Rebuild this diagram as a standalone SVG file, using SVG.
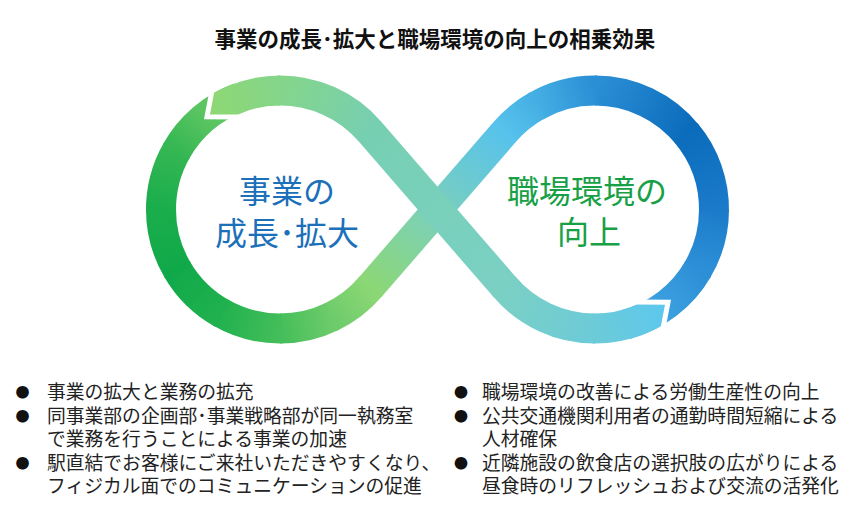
<svg xmlns="http://www.w3.org/2000/svg" width="868" height="508" viewBox="0 0 868 508">
<style>
.rb{fill:none;stroke-width:30;stroke-linecap:butt}
.cut{fill:none;stroke:#fff;stroke-width:5;stroke-linejoin:miter}
.t{font-family:"Noto Sans CJK JP","Noto Sans CJK SC",sans-serif}
.title{font-size:21.5px;font-weight:700;fill:#111;text-anchor:middle}
.big{font-size:32px;text-anchor:middle}
.li{font-size:18.8px;fill:#222}
.bul{font-size:14px;fill:#111}
</style>
<defs>
<linearGradient id="g_r2a" gradientUnits="userSpaceOnUse" x1="645.29" y1="317.35" x2="698.06" y2="269.0"><stop offset="0" stop-color="#40a5e2"/><stop offset="1" stop-color="#2d90d7"/></linearGradient>
<linearGradient id="g_r2b" gradientUnits="userSpaceOnUse" x1="698.06" y1="269.0" x2="714" y2="209.5"><stop offset="0" stop-color="#2d90d7"/><stop offset="1" stop-color="#1b7bca"/></linearGradient>
<linearGradient id="g_r2c" gradientUnits="userSpaceOnUse" x1="714" y1="209.5" x2="686.16" y2="133.0"><stop offset="0" stop-color="#1b7bca"/><stop offset="1" stop-color="#0b6cbc"/></linearGradient>
<linearGradient id="g_r2d" gradientUnits="userSpaceOnUse" x1="686.16" y1="133.0" x2="595" y2="90.5"><stop offset="0" stop-color="#0b6cbc"/><stop offset="1" stop-color="#2b8fd5"/></linearGradient>
<linearGradient id="g_r2e" gradientUnits="userSpaceOnUse" x1="595" y1="90.5" x2="535.5" y2="106.44"><stop offset="0" stop-color="#2b8fd5"/><stop offset="1" stop-color="#46b0e4"/></linearGradient>
<linearGradient id="g_r2f" gradientUnits="userSpaceOnUse" x1="535.5" y1="106.44" x2="505.08" y2="131.54"><stop offset="0" stop-color="#46b0e4"/><stop offset="1" stop-color="#57c2ec"/></linearGradient>
<linearGradient id="g_d2" gradientUnits="userSpaceOnUse" x1="505.08" y1="131.54" x2="369.92" y2="287.46"><stop offset="0" stop-color="#57c2ec"/><stop offset="0.5" stop-color="#7ad0bd"/><stop offset="1" stop-color="#8cd775"/></linearGradient>
<linearGradient id="g_l2a" gradientUnits="userSpaceOnUse" x1="369.92" y1="287.46" x2="330.29" y2="317.35"><stop offset="0" stop-color="#8cd775"/><stop offset="1" stop-color="#6dcb6a"/></linearGradient>
<linearGradient id="g_l2b" gradientUnits="userSpaceOnUse" x1="330.29" y1="317.35" x2="280" y2="328.5"><stop offset="0" stop-color="#6dcb6a"/><stop offset="1" stop-color="#44be5a"/></linearGradient>
<linearGradient id="g_l2c" gradientUnits="userSpaceOnUse" x1="280" y1="328.5" x2="220.5" y2="312.56"><stop offset="0" stop-color="#44be5a"/><stop offset="1" stop-color="#20b14e"/></linearGradient>
<linearGradient id="g_l2d" gradientUnits="userSpaceOnUse" x1="220.5" y1="312.56" x2="176.95" y2="269"><stop offset="0" stop-color="#20b14e"/><stop offset="1" stop-color="#10a94a"/></linearGradient>
<linearGradient id="g_l2e" gradientUnits="userSpaceOnUse" x1="176.95" y1="269" x2="161" y2="209.5"><stop offset="0" stop-color="#10a94a"/><stop offset="1" stop-color="#1aad4c"/></linearGradient>
<linearGradient id="g_l2f" gradientUnits="userSpaceOnUse" x1="161" y1="209.5" x2="176.95" y2="150"><stop offset="0" stop-color="#1aad4c"/><stop offset="1" stop-color="#35b753"/></linearGradient>
<linearGradient id="g_l2g" gradientUnits="userSpaceOnUse" x1="176.95" y1="150" x2="206.4" y2="116"><stop offset="0" stop-color="#35b753"/><stop offset="1" stop-color="#5bc562"/></linearGradient>
<linearGradient id="g_l1a" gradientUnits="userSpaceOnUse" x1="206.4" y1="116" x2="280" y2="90.5"><stop offset="0" stop-color="#8fd871"/><stop offset="1" stop-color="#84d58a"/></linearGradient>
<linearGradient id="g_l1b" gradientUnits="userSpaceOnUse" x1="280" y1="90.5" x2="369.92" y2="131.54"><stop offset="0" stop-color="#84d58a"/><stop offset="1" stop-color="#77cfb2"/></linearGradient>
<linearGradient id="g_d1" gradientUnits="userSpaceOnUse" x1="369.92" y1="131.54" x2="505.08" y2="287.46"><stop offset="0" stop-color="#77cfb2"/><stop offset="0.5" stop-color="#79d0bb"/><stop offset="1" stop-color="#7bd0c4"/></linearGradient>
<linearGradient id="g_r1a" gradientUnits="userSpaceOnUse" x1="505.08" y1="287.46" x2="595" y2="328.5"><stop offset="0" stop-color="#7bd0c4"/><stop offset="1" stop-color="#6ccbd8"/></linearGradient>
<linearGradient id="g_r1b" gradientUnits="userSpaceOnUse" x1="595" y1="328.5" x2="668.6" y2="303"><stop offset="0" stop-color="#6ccbd8"/><stop offset="1" stop-color="#5bc7f0"/></linearGradient>
<clipPath id="clipL"><polygon points="218.7,55 207,116.7 320,118 320,55"/></clipPath>
<clipPath id="clipR"><polygon points="656.3,364 668,302.3 555,301 555,364"/></clipPath>
</defs>
<rect width="868" height="508" fill="#fff"/>
<g id="title"><text class="t title" x="435" y="47">事業の成長･拡大と職場環境の向上の相乗効果</text></g>
<g id="connectors">
<path class="rb" stroke="url(#g_r2a)" d="M625.8,324.44 A119,119 0 0 0 698.06,269.0"/>
<path class="rb" stroke="url(#g_r2b)" d="M697.0,270.79 A119,119 0 0 0 714,209.5"/>
<path class="rb" stroke="url(#g_r2c)" d="M713.98,211.58 A119,119 0 0 0 686.16,133.0"/>
<path class="rb" stroke="url(#g_r2d)" d="M687.48,134.61 A119,119 0 0 0 595,90.5"/>
<path class="rb" stroke="url(#g_r2e)" d="M597.08,90.52 A119,119 0 0 0 535.5,106.44"/>
<path class="rb" stroke="url(#g_r2f)" d="M537.31,105.42 A119,119 0 0 0 505.08,131.54"/>
<path class="rb" stroke="url(#g_d2)" d="M505.74,130.78 L369.92,287.46"/>
<path class="rb" stroke="url(#g_l2a)" d="M371.26,285.87 A119,119 0 0 1 330.29,317.35"/>
<path class="rb" stroke="url(#g_l2b)" d="M332.17,316.46 A119,119 0 0 1 280,328.5"/>
<path class="rb" stroke="url(#g_l2c)" d="M282.08,328.48 A119,119 0 0 1 220.5,312.56"/>
<path class="rb" stroke="url(#g_l2d)" d="M222.31,313.58 A119,119 0 0 1 176.95,269"/>
<path class="rb" stroke="url(#g_l2e)" d="M178.0,270.79 A119,119 0 0 1 161,209.5"/>
<path class="rb" stroke="url(#g_l2f)" d="M161.02,211.58 A119,119 0 0 1 176.95,150"/>
<path class="rb" stroke="url(#g_l2g)" d="M175.92,151.81 A119,119 0 0 1 239.3,97.68"/>
<path class="rb" stroke="url(#g_l1a)" clip-path="url(#clipL)" d="M195.85,125.35 A119,119 0 0 1 280,90.5"/>
<path class="rb" stroke="url(#g_l1b)" d="M277.92,90.52 A119,119 0 0 1 369.92,131.54"/>
<path class="rb" stroke="url(#g_d1)" d="M369.27,130.78 L505.08,287.46"/>
<path class="rb" stroke="url(#g_r1a)" d="M503.74,285.87 A119,119 0 0 0 595,328.5"/>
<path class="rb" stroke="url(#g_r1b)" clip-path="url(#clipR)" d="M592.92,328.48 A119,119 0 0 0 679.15,293.65"/>
<polyline class="cut" points="212.8,86.3 207,116.7 239,117.1"/>
<polyline class="cut" points="662.2,332.7 668,302.3 636,301.9"/>
</g>
<g id="node-growth">
<text class="t big" fill="#1b70b9" x="287" y="203">事業の</text>
<text class="t big" fill="#1b70b9" x="287" y="245">成長･拡大</text>
</g>
<g id="node-workplace">
<text class="t big" fill="#17a046" x="587" y="203">職場環境の</text>
<text class="t big" fill="#17a046" x="589" y="244">向上</text>
</g>
<g id="list-left">
<text class="t bul" x="15.5" y="397">●</text>
<text class="t li" x="47" y="399">事業の拡大と業務の拡充</text>
<text class="t bul" x="15.5" y="420.5">●</text>
<text class="t li" x="47" y="422.5">同事業部の企画部･事業戦略部が同一執務室</text>
<text class="t li" x="47" y="446">で業務を行うことによる事業の加速</text>
<text class="t bul" x="15.5" y="467.5">●</text>
<text class="t li" x="47" y="469.5">駅直結でお客様にご来社いただきやすくなり、</text>
<text class="t li" x="47" y="493">フィジカル面でのコミュニケーションの促進</text>
</g>
<g id="list-right">
<text class="t bul" x="454" y="397">●</text>
<text class="t li" x="482" y="399">職場環境の改善による労働生産性の向上</text>
<text class="t bul" x="454" y="420.5">●</text>
<text class="t li" x="482" y="422.5">公共交通機関利用者の通勤時間短縮による</text>
<text class="t li" x="482" y="446">人材確保</text>
<text class="t bul" x="454" y="467.5">●</text>
<text class="t li" x="482" y="469.5">近隣施設の飲食店の選択肢の広がりによる</text>
<text class="t li" x="482" y="493">昼食時のリフレッシュおよび交流の活発化</text>
</g>
</svg>
